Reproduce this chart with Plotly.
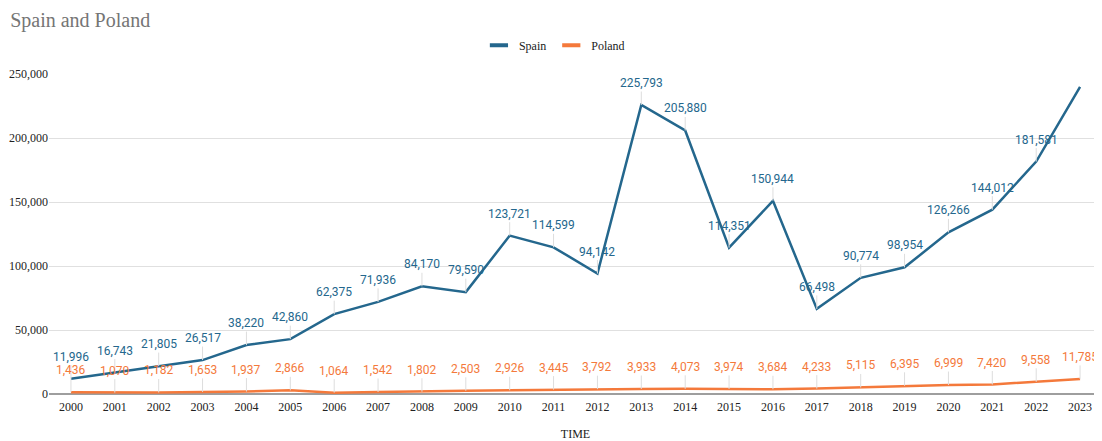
import plotly.graph_objects as go

years = [str(y) for y in range(2000, 2024)]
spain = [11996, 16743, 21805, 26517, 38220, 42860, 62375, 71936, 84170, 79590,
         123721, 114599, 94142, 225793, 205880, 114351, 150944, 66498, 90774,
         98954, 126266, 144012, 181581, 240000]
poland = [1436, 1070, 1182, 1653, 1937, 2866, 1064, 1542, 1802, 2503, 2926,
          3445, 3792, 3933, 4073, 3974, 3684, 4233, 5115, 6395, 6999, 7420,
          9558, 11785]
spain_labelled = [True] * 23 + [False]

SPAIN_C = "#24678d"
POLAND_C = "#f4793b"

fig = go.Figure()
fig.add_trace(go.Scatter(x=years, y=spain, name="Spain", mode="lines", showlegend=False,
                         line=dict(color=SPAIN_C, width=2.5)))
fig.add_trace(go.Scatter(x=years, y=poland, name="Poland", mode="lines", showlegend=False,
                         line=dict(color=POLAND_C, width=2.5)))
# legend entries with short thick bar symbols
for name, c in [("Spain", SPAIN_C), ("Poland", POLAND_C)]:
    fig.add_trace(go.Scatter(x=[None], y=[None], name=name, mode="markers",
                             marker=dict(symbol="line-ew", size=13,
                                         line=dict(color=c, width=4))))

anns = []
for i, (v, show) in enumerate(zip(spain, spain_labelled)):
    if not show:
        continue
    anns.append(dict(x=i, y=v, xref="x", yref="y", text=f"{v:,}", showarrow=True,
                     arrowhead=0, arrowwidth=1, arrowcolor="#dddddd", ax=0, ay=-22,
                     font=dict(family="Roboto", size=12, color=SPAIN_C)))
for i, v in enumerate(poland):
    anns.append(dict(x=i, y=v, xref="x", yref="y", text=f"{v:,}", showarrow=True,
                     arrowhead=0, arrowwidth=1, arrowcolor="#dddddd", ax=0, ay=-22,
                     font=dict(family="Roboto", size=12, color=POLAND_C)))

fig.update_layout(
    width=1094, height=433, autosize=False,
    margin=dict(l=41, r=0, t=66, b=47),
    plot_bgcolor="white", paper_bgcolor="white",
    title=dict(text="Spain and Poland", x=0.002, xanchor="left", y=0.972, yanchor="middle",
               font=dict(family="Liberation Serif", size=20, color="#757575")),
    legend=dict(orientation="h", x=0.48, xanchor="center",
                y=1.09, yanchor="middle",
                font=dict(family="Liberation Serif", size=12, color="#222222"),
                itemwidth=30),
    annotations=anns,
    showlegend=True,
)
fig.update_xaxes(type="category", range=[-0.5, 23.5], showgrid=False,
                 showline=False, ticks="", tickangle=0, ticklabelstandoff=4,
                 tickfont=dict(family="Liberation Serif", size=12, color="#222222"),
                 title=dict(text="TIME", font=dict(family="Liberation Serif", size=12, color="#222222"),
                            standoff=17))
fig.update_yaxes(range=[0, 250000], tickvals=[0, 50000, 100000, 150000, 200000, 250000],
                 tickformat=",", showgrid=True, gridcolor="#e0e0e0", gridwidth=1,
                 zeroline=True, zerolinecolor="#9e9e9e", zerolinewidth=2,
                 ticks="",
                 tickfont=dict(family="Liberation Serif", size=12, color="#222222"))

fig.write_html("out.html")
